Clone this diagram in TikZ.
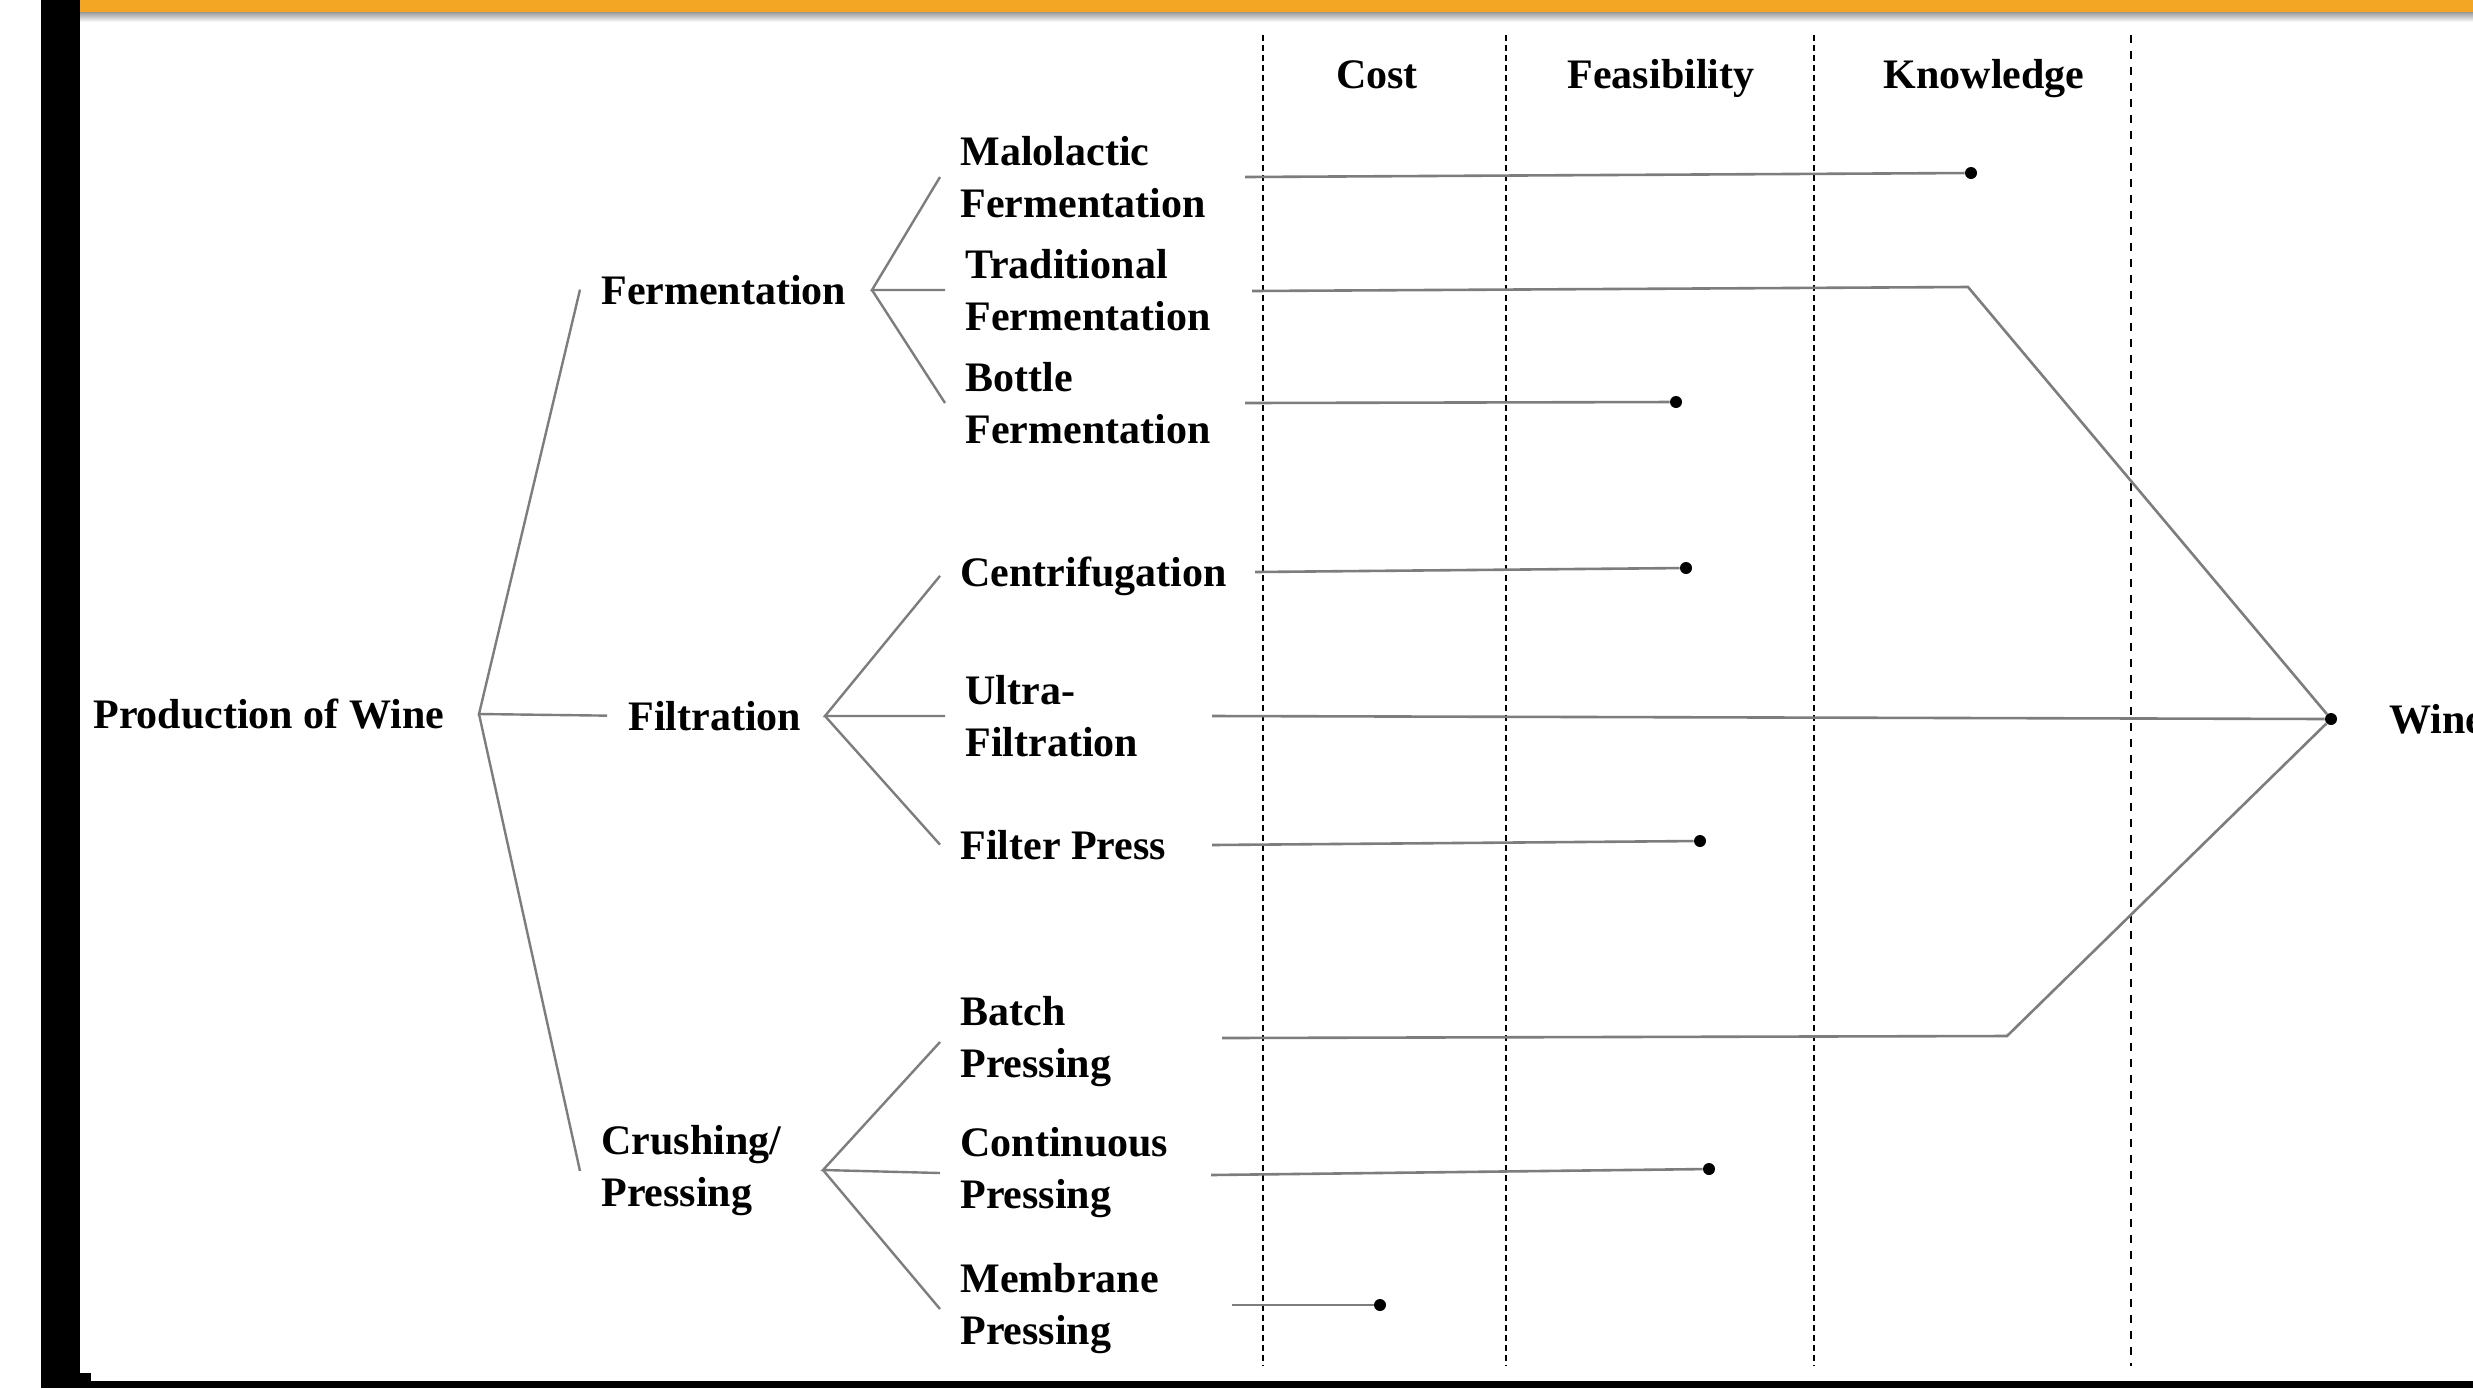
\documentclass[tikz,border=0pt]{standalone}
\usepackage{fontspec}
\setmainfont{Liberation Serif}
\usepackage{xcolor}
\usetikzlibrary{positioning}

\definecolor{barorange}{RGB}{243,166,35}
\definecolor{linkgray}{RGB}{125,125,125}

\begin{document}
\begin{tikzpicture}[x=0.5pt, y=-0.5pt,
    lbl/.style={font=\fontsize{21}{26}\selectfont\bfseries, inner sep=0pt, align=left},
    dot/.style={circle, fill=black, inner sep=0pt, minimum size=6pt},
    link/.style={draw=linkgray, line width=1.3pt},
    branch/.style={draw=linkgray, line width=1.2pt},
    col/.style={black, line width=1.3pt, dash pattern=on 3pt off 2pt}]

    \useasboundingbox (0,0) rectangle (2473,1388);
    \clip (0,0) rectangle (2473,1388);
    \fill[white] (0,0) rectangle (2473,1388);

    % Frame
    \shade[top color=black!40, bottom color=white] (78,12) rectangle (2473,22);
    \fill[barorange] (78,0) rectangle (2473,12);
    \fill[black] (41,0) rectangle (80,1388);
    \fill[black] (41,1381) rectangle (2473,1388);
    \fill[black] (80,1373) rectangle (91,1381);

    % Columns
    \draw[col] (1263,35) -- (1263,1366);
    \draw[col] (1506,35) -- (1506,1366);
    \draw[col] (1814,35) -- (1814,1366);
    \draw[col, dash pattern=on 4pt off 4pt] (2131,35) -- (2131,1366);

    \node[lbl, anchor=base] (cost) at (1377,88) {Cost};
    \node[lbl, anchor=base] (feas) at (1661,88) {Feasibility};
    \node[lbl, anchor=base] (know) at (1984,88) {Knowledge};

    % Labels
    \node[lbl, anchor=base west] (prod) at (93,728) {Production of Wine};
    \node[lbl, anchor=base west] (ferm) at (601,304) {Fermentation};
    \node[lbl, anchor=base west] (filt) at (628,730) {Filtration};
    \node[lbl, anchor=west] (crush) at (601,1171) {Crushing/\\Pressing};

    \node[lbl, anchor=west] (malo) at (960,177) {Malolactic\\Fermentation};
    \node[lbl, anchor=west] (trad) at (965,290) {Traditional\\Fermentation};
    \node[lbl, anchor=west] (bott) at (965,403) {Bottle\\Fermentation};
    \node[lbl, anchor=base west] (cent) at (960,586) {Centrifugation};
    \node[lbl, anchor=west] (ultra) at (965,716) {Ultra-\\Filtration};
    \node[lbl, anchor=base west] (fpress) at (960,859) {Filter Press};
    \node[lbl, anchor=west] (batch) at (960,1042) {Batch\\Pressing};
    \node[lbl, anchor=west] (cont) at (960,1173) {Continuous\\Pressing};
    \node[lbl, anchor=west] (memb) at (960,1309) {Membrane\\Pressing};

    \node[lbl, anchor=base west] (wine) at (2389,733) {Wine};

    % Forks
    \coordinate (prod-fork) at (479,714);
    \draw[branch] ([xshift=-10.5pt]ferm.west) -- (prod-fork) -- ([xshift=-10.5pt]filt.west);
    \draw[branch] (prod-fork) -- ([xshift=-10.5pt]crush.west);

    \coordinate (ferm-fork) at (872,290);
    \draw[branch] ([xshift=-10pt]malo.west) -- (ferm-fork) -- ([xshift=-10pt]trad.west);
    \draw[branch] (ferm-fork) -- ([xshift=-10pt]bott.west);

    \coordinate (filt-fork) at (825,716);
    \draw[branch] ([xshift=-10pt]cent.west) -- (filt-fork) -- ([xshift=-10pt]ultra.west);
    \draw[branch] (filt-fork) -- ([xshift=-10pt]fpress.west);

    \coordinate (crush-fork) at (823,1170);
    \draw[branch] ([xshift=-10pt]batch.west) -- (crush-fork) -- ([xshift=-10pt]cont.west);
    \draw[branch] (crush-fork) -- ([xshift=-10pt]memb.west);

    % Ratings
    \node[dot] (malo-d) at (1971,173) {};
    \node[dot] (bott-d) at (1676,402) {};
    \node[dot] (cent-d) at (1686,568) {};
    \node[dot] (fpress-d) at (1700,841) {};
    \node[dot] (cont-d) at (1709,1169) {};
    \node[dot] (memb-d) at (1380,1305) {};
    \node[dot] (wine-d) at (2331,719) {};

    \coordinate (malo-s) at (1245,177);
    \coordinate (trad-s) at (1252,291);
    \coordinate (trad-k) at (1968,287);
    \coordinate (bott-s) at (1245,403);
    \coordinate (cent-s) at (1255,572);
    \coordinate (ultra-s) at (1212,716);
    \coordinate (fpress-s) at (1212,845);
    \coordinate (batch-s) at (1222,1038);
    \coordinate (batch-k) at (2007,1036);
    \coordinate (cont-s) at (1211,1175);
    \coordinate (memb-s) at (1232,1305);

    \draw[link] (malo-s) -- (malo-d);
    \draw[link] (trad-s) -- (trad-k) -- (wine-d);
    \draw[link] (bott-s) -- (bott-d);
    \draw[link] (cent-s) -- (cent-d);
    \draw[link] (ultra-s) -- (wine-d);
    \draw[link] (fpress-s) -- (fpress-d);
    \draw[link] (batch-s) -- (batch-k) -- (wine-d);
    \draw[link] (cont-s) -- (cont-d);
    \draw[link] (memb-s) -- (memb-d);
\end{tikzpicture}
\end{document}
